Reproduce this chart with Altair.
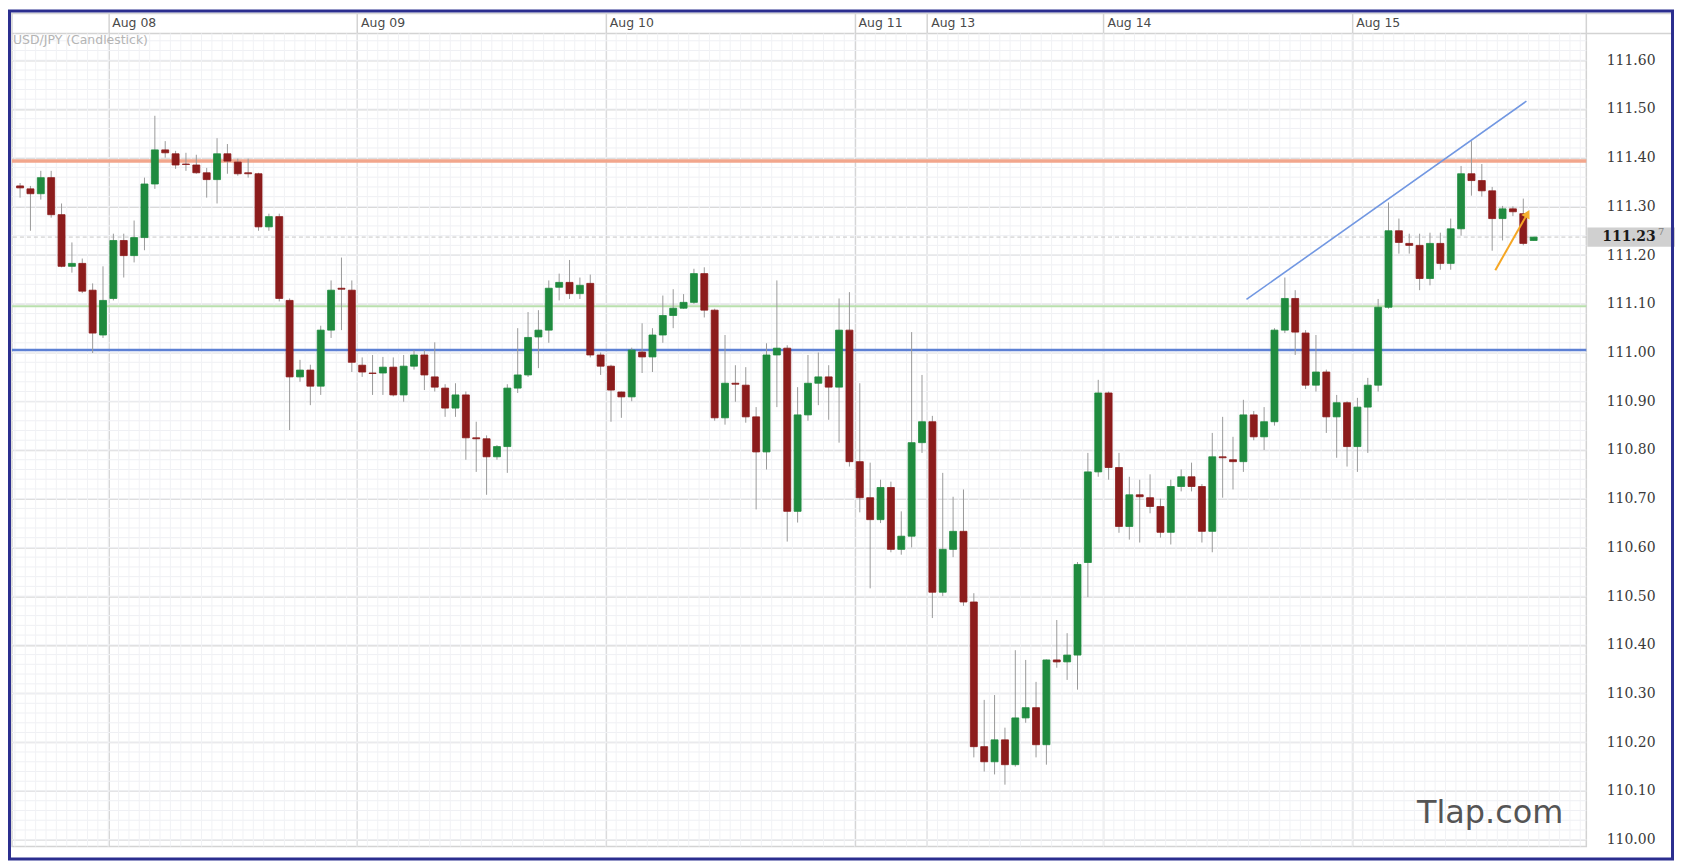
import altair as alt
import pandas as pd
import numpy as np

# ---- hourly USD/JPY candles (index = hour slot) ----
opens = [111.342,111.336,111.326,111.359,111.283,111.177,111.183,111.128,111.036,111.111,
         111.230,111.199,111.236,111.346,111.416,111.408,111.387,111.385,111.369,111.355,
         111.408,111.391,111.369,111.367,111.258,111.279,111.107,110.950,110.964,110.931,
         111.046,111.132,111.128,110.974,110.958,110.958,110.970,110.913,110.972,110.995,
         110.950,110.927,110.886,110.913,110.825,110.823,110.786,110.807,110.927,110.954,
         111.032,111.046,111.134,111.144,111.121,111.142,110.995,110.972,110.919,110.909,
         111.001,110.991,111.036,111.076,111.091,111.103,111.162,111.087,110.866,110.937,
         110.933,110.868,110.796,110.995,111.009,110.674,110.872,110.937,110.950,110.929,
         111.046,110.776,110.702,110.657,110.723,110.596,110.623,110.815,110.858,110.508,
         110.596,110.633,110.488,110.191,110.160,110.205,110.154,110.250,110.271,110.195,
         110.369,110.365,110.379,110.569,110.755,110.917,110.764,110.643,110.708,110.702,
         110.684,110.631,110.725,110.745,110.725,110.633,110.786,110.780,110.776,110.872,
         110.827,110.858,111.046,111.111,111.040,110.933,110.960,110.868,110.897,110.807,
         110.888,110.933,111.093,111.250,111.224,111.220,111.152,111.224,111.183,111.254,
         111.367,111.353,111.332,111.275,111.295,111.285,111.230]
highs = [111.348,111.342,111.373,111.373,111.306,111.226,111.193,111.142,111.177,111.244,
         111.244,111.271,111.359,111.486,111.434,111.414,111.410,111.406,111.379,111.440,
         111.428,111.398,111.398,111.369,111.285,111.285,111.111,110.985,110.975,111.055,
         111.148,111.195,111.148,110.990,110.995,110.991,110.990,110.995,111.005,111.005,
         111.021,110.935,110.937,110.920,110.858,110.830,110.810,110.935,111.050,111.083,
         111.087,111.148,111.162,111.190,111.154,111.160,111.000,110.975,110.920,111.010,
         111.060,111.050,111.117,111.130,111.120,111.172,111.175,111.090,111.036,110.974,
         110.970,110.888,111.019,111.148,111.015,110.929,110.995,111.000,110.974,111.111,
         111.124,110.937,110.774,110.739,110.735,110.674,111.042,110.954,110.870,110.753,
         110.704,110.719,110.506,110.287,110.297,110.230,110.389,110.369,110.324,110.370,
         110.451,110.424,110.570,110.794,110.944,110.920,110.794,110.745,110.739,110.750,
         110.700,110.739,110.760,110.774,110.730,110.835,110.868,110.827,110.903,110.880,
         110.888,111.050,111.154,111.128,111.046,111.036,110.965,110.913,110.900,110.907,
         110.948,111.110,111.308,111.275,111.244,111.244,111.246,111.246,111.275,111.383,
         111.434,111.387,111.340,111.301,111.300,111.316,111.237]
lows = [111.318,111.250,111.314,111.277,111.175,111.164,111.122,110.999,111.030,111.107,
        111.154,111.185,111.210,111.336,111.400,111.377,111.373,111.367,111.318,111.306,
        111.367,111.363,111.359,111.250,111.250,111.105,110.841,110.940,110.892,110.913,
        111.030,111.046,110.960,110.950,110.913,110.913,110.910,110.899,110.965,110.923,
        110.920,110.868,110.868,110.780,110.755,110.708,110.780,110.753,110.917,110.950,
        110.968,111.020,111.107,111.110,111.110,110.990,110.954,110.858,110.866,110.900,
        110.958,110.960,111.020,111.050,111.090,111.100,111.072,110.860,110.852,110.899,
        110.856,110.678,110.760,110.888,110.612,110.651,110.860,110.892,110.862,110.815,
        110.766,110.672,110.516,110.650,110.590,110.585,110.600,110.794,110.455,110.500,
        110.580,110.480,110.169,110.140,110.134,110.113,110.150,110.240,110.169,110.154,
        110.353,110.328,110.308,110.498,110.745,110.739,110.630,110.616,110.610,110.670,
        110.620,110.606,110.715,110.715,110.610,110.590,110.702,110.719,110.755,110.820,
        110.800,110.850,111.040,110.995,110.925,110.920,110.835,110.784,110.766,110.755,
        110.794,110.920,111.090,111.203,111.203,111.128,111.138,111.170,111.170,111.240,
        111.322,111.320,111.209,111.230,111.280,111.220,111.230]
closes = [111.338,111.326,111.359,111.283,111.177,111.183,111.126,111.040,111.107,111.230,
          111.199,111.236,111.346,111.416,111.410,111.385,111.386,111.369,111.355,111.408,
          111.393,111.367,111.367,111.258,111.279,111.111,110.950,110.964,110.931,111.046,
          111.128,111.130,110.980,110.960,110.957,110.970,110.913,110.972,110.995,110.954,
          110.929,110.886,110.913,110.825,110.823,110.786,110.807,110.927,110.954,111.031,
          111.046,111.132,111.144,111.121,111.138,110.995,110.972,110.923,110.909,111.005,
          110.991,111.036,111.076,111.091,111.103,111.162,111.087,110.866,110.937,110.935,
          110.868,110.796,110.995,111.009,110.674,110.872,110.937,110.950,110.929,111.046,
          110.776,110.702,110.657,110.723,110.596,110.623,110.815,110.858,110.508,110.596,
          110.633,110.488,110.191,110.160,110.205,110.154,110.250,110.271,110.195,110.369,
          110.365,110.379,110.565,110.755,110.917,110.764,110.643,110.708,110.704,110.684,
          110.631,110.725,110.745,110.725,110.633,110.786,110.784,110.776,110.872,110.827,
          110.858,111.046,111.111,111.042,110.933,110.960,110.868,110.897,110.807,110.888,
          110.933,111.093,111.250,111.226,111.220,111.152,111.224,111.183,111.254,111.367,
          111.353,111.332,111.275,111.295,111.289,111.224,111.237]

# day separators (between hour slots) and their labels
day_pos = [8.5, 32.5, 56.5, 80.5, 87.5, 104.5, 128.5]
day_labels = ["Aug 08", "Aug 09", "Aug 10", "Aug 11", "Aug 13", "Aug 14", "Aug 15"]

# price axis ticks
price_ticks = [110.00, 110.10, 110.20, 110.30, 110.40, 110.50, 110.60, 110.70, 110.80,
               110.90, 111.00, 111.10, 111.20, 111.30, 111.40, 111.50, 111.60]

# horizontal support / resistance lines
resistance_price = 111.393
support1_price = 111.095
support2_price = 111.005
current_price = 111.237

# drawn trend line and orange arrow
trend_k = [118.3, 145.3]
trend_p = [111.109, 111.516]
arrow_k = [142.3, 145.4]
arrow_p = [111.169, 111.285]

GREEN = "#1f8b3f"
RED = "#8c1c1c"
W, H = 1580, 816

candles = pd.DataFrame({
    "k": list(range(len(opens))),
    "open": opens, "high": highs, "low": lows, "close": closes,
})
ups = candles[candles["close"] >= candles["open"]]
downs = candles[candles["close"] < candles["open"]]

xs = alt.Scale(domain=[-0.3, 150.6], nice=False, zero=False)
ys = alt.Scale(domain=[109.986, 111.655], nice=False, zero=False)

X = alt.X("k:Q", scale=xs, title=None,
          axis=alt.Axis(orient="top", values=day_pos, labels=False, grid=True,
                        gridColor="#d3d3d3", gridWidth=1.5, tickSize=20,
                        tickColor="#d3d3d3", tickWidth=1.5, domain=False))
Y = alt.Y("low:Q", scale=ys, title=None,
          axis=alt.Axis(orient="right", values=price_ticks, format=".2f", grid=True,
                        gridColor="#dadada", gridWidth=1.5, ticks=False, domain=False,
                        labelFont="DejaVu Serif", labelFontSize=14, labelColor="#3a3a3a",
                        labelPadding=20, labelAlign="left"))

one = pd.DataFrame({"a": [0]})

# faint minor grid
minor_h = pd.DataFrame({"p": [round(v, 2) for v in np.arange(110.0, 111.66, 0.02)]})
minor_v = pd.DataFrame({"k": np.arange(-0.5, 150.6, 1.0)})
minor_h_layer = alt.Chart(minor_h).mark_rule(color="#eff0f4", strokeWidth=1).encode(
    y=alt.Y("p:Q", scale=ys))
minor_v_layer = alt.Chart(minor_v).mark_rule(color="#f1f2f5", strokeWidth=1).encode(
    x=alt.X("k:Q", scale=xs))

wicks = alt.Chart(candles).mark_rule(color="#9a9a9a", strokeWidth=1).encode(
    x=X, y=Y, y2="high:Q")


def body_layer(df, col):
    return alt.Chart(df).mark_bar(width=7, color=col, fill=col, stroke=col,
                                  strokeWidth=0.8, opacity=1).encode(
        x=alt.X("k:Q", scale=xs),
        y=alt.Y("open:Q", scale=ys),
        y2="close:Q",
    )


bodies_up = body_layer(ups, GREEN)
bodies_down = body_layer(downs, RED)


def level(price, col, width):
    return alt.Chart(pd.DataFrame({"p": [price]})).mark_rule(
        color=col, strokeWidth=width).encode(y=alt.Y("p:Q", scale=ys))


res_line = level(resistance_price, "#f2a68c", 3.5)
sup1_line = level(support1_price, "#b9e0ad", 2)
sup2_line = level(support2_price, "#5d80d4", 2.5)

cur = pd.DataFrame({"p": [current_price], "label": ["111.23"], "sup": ["7"]})
cur_line = alt.Chart(cur).mark_rule(color="#c8c8c8", strokeDash=[4, 3], strokeWidth=1).encode(
    y=alt.Y("p:Q", scale=ys))

trend = alt.Chart(pd.DataFrame({"k": trend_k, "p": trend_p})).mark_line(
    color="#7197e2", strokeWidth=1.6).encode(x=alt.X("k:Q", scale=xs), y=alt.Y("p:Q", scale=ys))

arrow_df = pd.DataFrame({"k": arrow_k, "p": arrow_p})
arrow = alt.Chart(arrow_df).mark_line(color="#f5a623", strokeWidth=2).encode(
    x=alt.X("k:Q", scale=xs), y=alt.Y("p:Q", scale=ys))
arrow_head = alt.Chart(arrow_df.tail(1)).mark_point(
    shape="triangle-up", angle=29, size=90, filled=True, color="#f5b030", opacity=1).encode(
    x=alt.X("k:Q", scale=xs), y=alt.Y("p:Q", scale=ys))

days = pd.DataFrame({"k": day_pos, "label": day_labels})
day_text = alt.Chart(days).mark_text(
    align="left", baseline="middle", dx=4, font="DejaVu Sans", fontSize=12.5,
    color="#4a4a4a").encode(x=alt.X("k:Q", scale=xs), y=alt.value(-10), text="label:N")

# current price tag in the axis panel
tag_box = alt.Chart(cur).mark_point(
    shape="M-1,-0.22L1,-0.22L1,0.22L-1,0.22Z", size=88 * 88, filled=True,
    color="#d0d0d0", opacity=1, strokeWidth=0).encode(
    x=alt.value(1625), y=alt.Y("p:Q", scale=ys))
tag_text = alt.Chart(cur).mark_text(
    align="left", baseline="middle", font="DejaVu Serif", fontSize=14, fontWeight="bold",
    color="#1a1a1a").encode(x=alt.value(1596), y=alt.Y("p:Q", scale=ys), text="label:N")
tag_sup = alt.Chart(cur).mark_text(
    align="left", baseline="middle", font="DejaVu Serif", fontSize=10, dy=-5,
    color="#808080").encode(x=alt.value(1652), y=alt.Y("p:Q", scale=ys), text="sup:N")

# frame decorations
title_text = alt.Chart(one).mark_text(
    align="left", baseline="middle", font="DejaVu Sans", fontSize=12.5,
    color="#b4b4b4", text="USD/JPY (Candlestick)").encode(x=alt.value(1), y=alt.value(7))
watermark = alt.Chart(one).mark_text(
    align="left", baseline="alphabetic", font="DejaVu Sans", fontSize=32,
    color="#555555", text="Tlap.com").encode(x=alt.value(1410), y=alt.value(792))
hdr_top = alt.Chart(one).mark_rule(color="#d6d6d6", strokeWidth=1.5).encode(
    x=alt.value(-1), x2=alt.value(1665), y=alt.value(-20))
hdr_bottom = alt.Chart(one).mark_rule(color="#d3d3d3", strokeWidth=1.5).encode(
    x=alt.value(W), x2=alt.value(1665), y=alt.value(0))
hdr_left = alt.Chart(one).mark_rule(color="#d3d3d3", strokeWidth=1.5).encode(
    x=alt.value(0), y=alt.value(-20), y2=alt.value(0))
hdr_right = alt.Chart(one).mark_rule(color="#d3d3d3", strokeWidth=1.5).encode(
    x=alt.value(W), y=alt.value(-20), y2=alt.value(0))
border = alt.Chart(one).mark_rect(filled=False, stroke="#2b2e8f", strokeWidth=3).encode(
    x=alt.value(-2.5), x2=alt.value(1666.5), y=alt.value(-22.5), y2=alt.value(828.5))

chart = alt.layer(
    minor_h_layer, minor_v_layer, res_line, sup1_line, sup2_line, cur_line, wicks,
    bodies_up, bodies_down, trend, arrow, arrow_head,
    day_text, tag_box, tag_text, tag_sup, title_text, watermark,
    hdr_top, hdr_bottom, hdr_left, hdr_right, border,
).properties(
    width=W, height=H,
    autosize=alt.AutoSizeParams(type="none"),
    padding={"left": 4, "top": 24, "right": 90, "bottom": 18},
    background="white",
).configure_view(stroke="#d3d3d3", strokeWidth=1.5)

chart.save("out.html", embed_options={"renderer": "svg", "actions": False})
